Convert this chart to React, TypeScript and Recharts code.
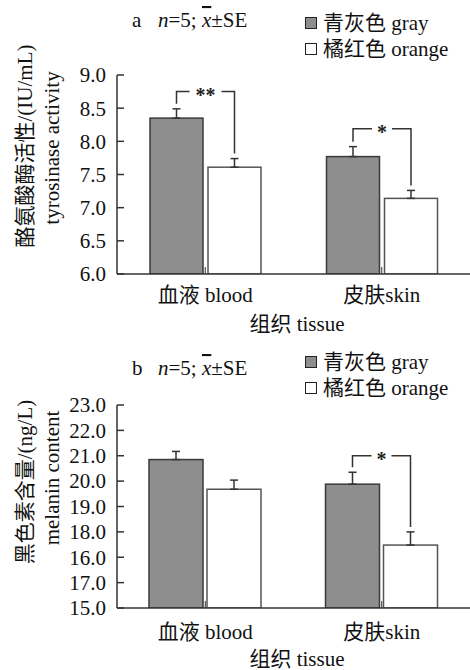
import React from 'react';
import { BarChart, Bar, XAxis, YAxis, ErrorBar, Legend } from 'recharts';

const categories = ['血液 blood', '皮肤skin'];
const seriesNames = ['青灰色 gray', '橘红色 orange'];

const tyrGray = [8.35, 7.77];
const tyrGraySE = [0.14, 0.15];
const tyrOrange = [7.61, 7.14];
const tyrOrangeSE = [0.13, 0.12];
const tyrSigMarks = ['**', '*'];
const tyrSigLevels = [8.75, 8.19];
const tyrTicks = [6.0, 6.5, 7.0, 7.5, 8.0, 8.5, 9.0];
const tyrTickLabels = ['6.0', '6.5', '7.0', '7.5', '8.0', '8.5', '9.0'];

const melGray = [20.85, 19.88];
const melGraySE = [0.32, 0.47];
const melOrange = [19.68, 17.48];
const melOrangeSE = [0.36, 0.52];
const melSigMarks = ['', '*'];
const melSigLevels = [0, 21.0];
const melTicks = [15, 16, 17, 18, 19, 20, 21, 22, 23];
const melTickLabels = ['15.0', '17.0', '16.0', '18.0', '19.0', '20.0', '21.0', '22.0', '23.0'];

const FONT = "'Liberation Serif', 'Times New Roman', 'Noto Sans CJK SC', serif";
const FS = 21;
const GRAY = '#8e8e8e';
const EDGE = '#3a3a3a';
const AXIS = '#333333';

const build = (gray: number[], gse: number[], orange: number[], ose: number[], sig: string[], lvl: number[]) =>
  categories.map((name, i) => ({
    name,
    gray: gray[i],
    grayErr: [0, gse[i]],
    orange: orange[i],
    orangeErr: [0, ose[i]],
    sig: sig[i],
    sigLevel: lvl[i],
  }));

const tyrData = build(tyrGray, tyrGraySE, tyrOrange, tyrOrangeSE, tyrSigMarks, tyrSigLevels);
const melData = build(melGray, melGraySE, melOrange, melOrangeSE, melSigMarks, melSigLevels);

const makeGrayShape = (domainMin: number, gap: number) => (props: any) => {
  const { x, y, width, height, payload } = props;
  const rect = (
    <rect x={x} y={y} width={width} height={height} fill={GRAY} stroke={EDGE} strokeWidth={1.5} />
  );
  if (!payload || !payload.sig) return rect;
  const unit = height / (payload.gray - domainMin);
  const yOf = (v: number) => y + height - (v - domainMin) * unit;
  const gx = x + width / 2;
  const ox = x + width + gap + width / 2;
  const gTop = yOf(payload.gray + payload.grayErr[1]) - 5;
  const oTop = yOf(payload.orange + payload.orangeErr[1]) - 5;
  const by = yOf(payload.sigLevel);
  const mid = (gx + ox) / 2;
  const half = payload.sig.length > 1 ? 16 : 10;
  return (
    <g>
      {rect}
      <polyline points={`${gx},${gTop} ${gx},${by} ${mid - half},${by}`} fill="none" stroke={AXIS} strokeWidth={1.5} />
      <polyline points={`${mid + half},${by} ${ox},${by} ${ox},${oTop}`} fill="none" stroke={AXIS} strokeWidth={1.5} />
      <text x={mid} y={by + 10} textAnchor="middle" fontFamily={FONT} fontSize={20} fontWeight="bold" fill="#222">
        {payload.sig}
      </text>
    </g>
  );
};

const OrangeShape = (props: any) => {
  const { x, y, width, height } = props;
  return <rect x={x} y={y} width={width} height={height} fill="#ffffff" stroke="#555" strokeWidth={1.5} />;
};

const makeYTick = (ticks: number[], labels: string[]) => (props: any) => {
  const { x, y, payload } = props;
  const idx = ticks.indexOf(payload.value);
  return (
    <g>
      <line x1={x} y1={y} x2={x + 7} y2={y} stroke={AXIS} strokeWidth={1.5} />
      <text x={x - 11} y={y} dy="0.35em" textAnchor="end" fontFamily={FONT} fontSize={FS} fill="#111">
        {idx >= 0 ? labels[idx] : payload.value}
      </text>
    </g>
  );
};

const makeXTick = (offset: number) => (props: any) => {
  const { x, y, payload } = props;
  return (
    <g>
      <line x1={x} y1={y} x2={x} y2={y - 7} stroke={AXIS} strokeWidth={1} />
      <text x={x} y={y + offset} dy="0.35em" textAnchor="middle" fontFamily={FONT} fontSize={FS} fill="#111">
        {payload.value}
      </text>
    </g>
  );
};

const LegendBox = () => (
  <div style={{ fontFamily: FONT, fontSize: 21, color: '#111', lineHeight: '26px' }}>
    {seriesNames.map((n, i) => (
      <div key={n} style={{ display: 'flex', alignItems: 'center', height: 26, whiteSpace: 'nowrap' }}>
        <span
          style={{
            display: 'inline-block',
            width: 10,
            height: 10,
            border: '1px solid #222',
            background: i === 0 ? GRAY : '#fff',
            marginRight: 6,
          }}
        />
        <span>{n}</span>
      </div>
    ))}
  </div>
);

type PanelProps = {
  data: any[];
  domain: [number, number];
  ticks: number[];
  labels: string[];
  height: number;
  margin: any;
  legendTop: number;
  barSize: number;
  barGap: number;
  xOffset: number;
};

const Panel = ({ data, domain, ticks, labels, height, margin, legendTop, barSize, barGap, xOffset }: PanelProps) => (
  <BarChart width={470} height={height} data={data} margin={margin} barGap={barGap} barSize={barSize}>
    <XAxis
      dataKey="name"
      height={30}
      tickSize={0}
      tickMargin={0}
      tickLine={false}
      axisLine={{ stroke: AXIS, strokeWidth: 1.5 }}
      tick={makeXTick(xOffset)}
      interval={0}
    />
    <YAxis
      type="number"
      domain={domain}
      ticks={ticks}
      width={117}
      tickSize={0}
      tickMargin={0}
      tickLine={false}
      axisLine={{ stroke: AXIS, strokeWidth: 1.5 }}
      tick={makeYTick(ticks, labels)}
      allowDataOverflow
    />
    <Legend
      verticalAlign="top"
      align="left"
      content={() => <LegendBox />}
      wrapperStyle={{ top: legendTop, left: 305, width: 170 }}
    />
    <Bar dataKey="gray" name={seriesNames[0]} isAnimationActive={false} shape={makeGrayShape(domain[0], barGap)}>
      <ErrorBar dataKey="grayErr" width={4} stroke={AXIS} strokeWidth={1.5} direction="y" />
    </Bar>
    <Bar dataKey="orange" name={seriesNames[1]} isAnimationActive={false} shape={OrangeShape}>
      <ErrorBar dataKey="orangeErr" width={4} stroke={AXIS} strokeWidth={1.5} direction="y" />
    </Bar>
  </BarChart>
);

const Annot = ({ letter, y }: { letter: string; y: number }) => (
  <text y={y} fontFamily={FONT} fontSize={FS} fill="#111">
    <tspan x={132}>{letter}</tspan>
    <tspan x={158} fontStyle="italic">n</tspan>
    <tspan>=5; </tspan>
    <tspan fontStyle="italic" style={{ textDecoration: 'overline' }}>x</tspan>
    <tspan>±SE</tspan>
  </text>
);

export default function App() {
  return (
    <div style={{ position: 'absolute', left: 0, top: 0, width: 470, height: 670, background: '#fff', fontFamily: FONT }}>
      <div style={{ position: 'absolute', left: 0, top: 0 }}>
        <Panel
          data={tyrData}
          domain={[6, 9]}
          ticks={tyrTicks}
          labels={tyrTickLabels}
          height={320}
          margin={{ top: 23, right: 0, bottom: 16, left: 0 }}
          legendTop={10}
          barSize={53}
          barGap={5}
          xOffset={21}
        />
      </div>
      <div style={{ position: 'absolute', left: 0, top: 320 }}>
        <Panel
          data={melData}
          domain={[15, 23]}
          ticks={melTicks}
          labels={melTickLabels}
          height={350}
          margin={{ top: 33, right: 0, bottom: 32, left: 0 }}
          legendTop={29}
          barSize={54}
          barGap={4}
          xOffset={24}
        />
      </div>
      <svg width={470} height={670} style={{ position: 'absolute', left: 0, top: 0, pointerEvents: 'none' }}>
        <Annot letter="a" y={27} />
        <Annot letter="b" y={375} />
        <text transform="translate(25,146) rotate(-90)" textAnchor="middle" dy="0.35em" fontFamily={FONT} fontSize={FS} fill="#111">
          酪氨酸酶活性/(IU/mL)
        </text>
        <text transform="translate(52,148) rotate(-90)" textAnchor="middle" dy="0.35em" fontFamily={FONT} fontSize={FS} fill="#111">
          tyrosinase activity
        </text>
        <text x={297} y={324} textAnchor="middle" dy="0.35em" fontFamily={FONT} fontSize={FS} fill="#111">
          组织 tissue
        </text>
        <text transform="translate(25,482) rotate(-90)" textAnchor="middle" dy="0.35em" fontFamily={FONT} fontSize={FS} fill="#111">
          黑色素含量/(ng/L)
        </text>
        <text transform="translate(52,478) rotate(-90)" textAnchor="middle" dy="0.35em" fontFamily={FONT} fontSize={FS} fill="#111">
          melanin content
        </text>
        <text x={297} y={659} textAnchor="middle" dy="0.35em" fontFamily={FONT} fontSize={FS} fill="#111">
          组织 tissue
        </text>
      </svg>
    </div>
  );
}
